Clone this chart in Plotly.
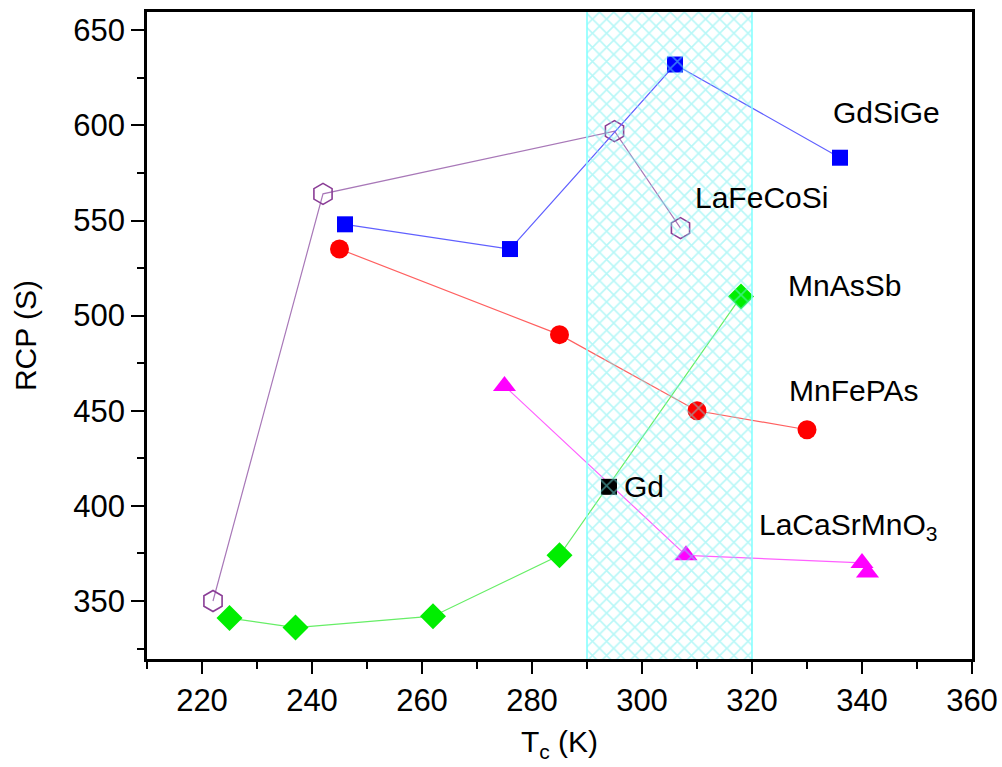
import plotly.graph_objects as go

# ---------------- data ----------------
gdsige_x = [246, 276, 306, 336]
gdsige_y = [548, 535, 632, 583]

lafecosi_x = [222, 242, 295, 307]
lafecosi_y = [350, 564, 597, 546]

mnfepas_x = [245, 285, 310, 330]
mnfepas_y = [535, 490, 450, 440]

mnassb_x = [225, 237, 262, 285, 318]
mnassb_y = [341, 336, 342, 374, 510]

lacasrmno3_x = [275, 308, 340, 341]
lacasrmno3_y = [463, 374, 370, 365]

gd_x = [294]
gd_y = [410]

band_x = [290, 320]

x_ticks = [220, 240, 260, 280, 300, 320, 340, 360]
y_ticks = [350, 400, 450, 500, 550, 600, 650]

FONT = "Liberation Sans, Arial, Helvetica, sans-serif"

fig = go.Figure()

fig.add_trace(go.Scatter(x=lafecosi_x, y=lafecosi_y, mode="lines+markers",
                         line=dict(color="#a878b8", width=1.2),
                         marker=dict(symbol="hexagon-open", size=21, color="#8a3d96",
                                     line=dict(width=1.6, color="#8a3d96"))))
fig.add_trace(go.Scatter(x=gdsige_x, y=gdsige_y, mode="lines+markers",
                         line=dict(color="#6060ff", width=1.2),
                         marker=dict(symbol="square", size=16, color="#0000ff")))
fig.add_trace(go.Scatter(x=mnfepas_x, y=mnfepas_y, mode="lines+markers",
                         line=dict(color="#ff6060", width=1.2),
                         marker=dict(symbol="circle", size=19, color="#ff0000")))
fig.add_trace(go.Scatter(x=mnassb_x, y=mnassb_y, mode="lines+markers",
                         line=dict(color="#66ee66", width=1.2),
                         marker=dict(symbol="diamond", size=20, color="#00ee00")))
fig.add_trace(go.Scatter(x=lacasrmno3_x, y=lacasrmno3_y, mode="lines+markers",
                         line=dict(color="#ff60ff", width=1.2),
                         marker=dict(symbol="triangle-up", size=20, color="#ff00ff")))
fig.add_trace(go.Scatter(x=gd_x, y=gd_y, mode="markers",
                         marker=dict(symbol="square", size=16, color="#000000")))

# cross-hatched band drawn on top
fig.add_trace(go.Scatter(x=[band_x[0], band_x[1], band_x[1], band_x[0], band_x[0]],
                         y=[0, 0, 1000, 1000, 0], mode="lines", fill="toself",
                         line=dict(color="#80ffff", width=1.5),
                         fillcolor="rgba(0,0,0,0)",
                         fillpattern=dict(shape="x", fgcolor="#70f0f0",
                                          bgcolor="rgba(0,0,0,0)", size=10, solidity=0.3)))

labels = [
    ("GdSiGe", 344.5, 607, "center"),
    ("LaFeCoSi", 321.8, 562, "center"),
    ("MnAsSb", 336.9, 516, "center"),
    ("MnFePAs", 338.5, 460.5, "center"),
    ("Gd", 296.3, 410, "left"),
    ("LaCaSrMnO<sub>3</sub>", 320.9, 389, "left"),
]
for text, lx, ly, anchor in labels:
    fig.add_annotation(x=lx, y=ly, text=text, showarrow=False, xanchor=anchor,
                       yanchor="middle", font=dict(size=30, color="black", family=FONT))

axis_common = dict(showline=True, linecolor="black", linewidth=2.5, mirror=True,
                   ticks="outside", tickwidth=2, tickcolor="black", showgrid=False,
                   zeroline=False, automargin=False,
                   tickfont=dict(size=31, color="black", family=FONT))

fig.update_xaxes(range=[210, 360], tickvals=x_ticks, ticklen=12,
                 minor=dict(ticks="outside", ticklen=7, dtick=10, tick0=210,
                            tickwidth=2, tickcolor="black"),
                 title=dict(text="T<sub>c</sub> (K)", font=dict(size=30, color="black", family=FONT),
                            standoff=15),
                 **axis_common)
fig.update_yaxes(range=[319.5, 659.6], tickvals=y_ticks, ticklen=13,
                 minor=dict(ticks="outside", ticklen=7, dtick=25, tick0=325,
                            tickwidth=2, tickcolor="black"),
                 title=dict(text="RCP (S)", font=dict(size=30, color="black", family=FONT),
                            standoff=28),
                 **axis_common)

fig.update_layout(width=1002, height=767, showlegend=False,
                  plot_bgcolor="white", paper_bgcolor="white",
                  margin=dict(l=147, r=30, t=12, b=108),
                  font=dict(family=FONT, color="black"))

fig.write_html("out.html")
